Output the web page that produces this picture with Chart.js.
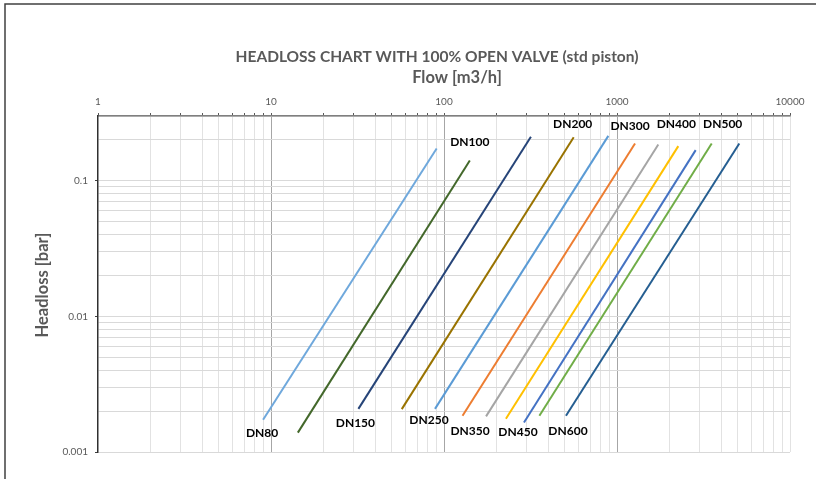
<!DOCTYPE html>
<html>
<head>
<meta charset="utf-8">
<script src="https://cdn.jsdelivr.net/npm/chart.js@4/dist/chart.umd.min.js"></script>
<style>
  html, body { margin: 0; padding: 0; background: #ffffff; }
  #wrap { width: 816px; height: 479px; position: relative; }
</style>
</head>
<body>
<div id="wrap"><canvas id="c" width="816" height="479"></canvas></div>
<script>
// ---- Data ----
const seriesNames = ['DN80', 'DN100', 'DN150', 'DN200', 'DN250', 'DN300', 'DN350', 'DN400', 'DN450', 'DN500', 'DN600'];
const flowStart = [9.0, 14.3, 32, 57, 88.7, 128, 175, 228, 290, 356, 507];          // m3/h
const flowEnd   = [90.7, 141, 318, 562, 891, 1271, 1733, 2261, 2850, 3527, 5093];    // m3/h
const headStart = [0.00173, 0.00139, 0.00208, 0.00207, 0.00208, 0.00185, 0.00183, 0.00176, 0.00165, 0.00185, 0.00185]; // bar
const headEnd   = [0.173, 0.141, 0.211, 0.209, 0.214, 0.188, 0.185, 0.180, 0.168, 0.188, 0.188];                       // bar
const xMajorTicks = [1, 10, 100, 1000, 10000];
const yMajorTicks = [0.001, 0.01, 0.1];
const yTickLabels = ['0.001', '0.01', '0.1'];
const chartTitle = 'HEADLOSS CHART WITH 100% OPEN VALVE (std piston)';
const xTitle = 'Flow [m3/h]';
const yTitle = 'Headloss [bar]';

// ---- Styles ----
const colors = ['#6FA8DC', '#43682B', '#264478', '#997300', '#5B9BD5', '#ED7D31', '#A5A5A5', '#FFC000', '#4472C4', '#70AD47', '#255E91'];
// label placement: which end of the line, and pixel offset of the label centre
const labelEnd = ['start', 'end', 'start', 'end', 'start', 'end', 'start', 'end', 'start', 'end', 'start'];
const labelDX = [-1, 0, -3, -1, -6, -5, -16, -2, -6, 11, 2];
const labelDY = [13, -18, 14, -13, 11, -17, 15, -22, 10, -19, 15];

const FONT = 'Lato, "Liberation Sans", Arial, sans-serif';
const GREY = '#595959';

function decadeTicks(majors, maxVal) {
  const out = [];
  majors.forEach(function (m) {
    for (let k = 1; k <= 9; k++) {
      const v = Number((m * k).toPrecision(6));
      if (v <= maxVal + 1e-12) out.push(v);
    }
  });
  return out;
}
function isMajor(v, majors) {
  return majors.some(function (m) { return Math.abs(v - m) / m < 1e-9; });
}

const datasets = seriesNames.map(function (name, i) {
  return {
    label: name,
    data: [{ x: flowStart[i], y: headStart[i] }, { x: flowEnd[i], y: headEnd[i] }],
    borderColor: colors[i],
    backgroundColor: colors[i],
    borderWidth: 2,
    pointRadius: 0,
    showLine: true,
    fill: false
  };
});

const textPlugin = {
  id: 'texts',
  afterDatasetsDraw: function (chart) {
    const ctx = chart.ctx;
    const xs = chart.scales.x, ys = chart.scales.y;
    ctx.save();
    // series labels
    ctx.font = 'bold 12px ' + FONT;
    ctx.fillStyle = '#000000';
    ctx.textAlign = 'center';
    ctx.textBaseline = 'middle';
    seriesNames.forEach(function (name, i) {
      const q = labelEnd[i] === 'start' ? flowStart[i] : flowEnd[i];
      const h = labelEnd[i] === 'start' ? headStart[i] : headEnd[i];
      const px = xs.getPixelForValue(q) + labelDX[i];
      const py = ys.getPixelForValue(h) + labelDY[i];
      ctx.fillText(name, px, py);
    });
    // titles
    ctx.fillStyle = GREY;
    ctx.font = 'bold 15.5px ' + FONT;
    ctx.fillText(chartTitle, 437, 57);
    ctx.font = 'bold 16.5px ' + FONT;
    ctx.fillText(xTitle, 457, 78);
    ctx.translate(43, 285);
    ctx.rotate(-Math.PI / 2);
    ctx.fillText(yTitle, 0, 0);
    ctx.restore();
    // outer frame
    ctx.save();
    ctx.strokeStyle = '#404040';
    ctx.lineWidth = 1.5;
    ctx.beginPath();
    ctx.moveTo(5, 490);
    ctx.lineTo(5, 4);
    ctx.lineTo(830, 4);
    ctx.stroke();
    ctx.restore();
  }
};

new Chart(document.getElementById('c'), {
  type: 'scatter',
  data: { datasets: datasets },
  plugins: [textPlugin],
  options: {
    responsive: false,
    animation: false,
    devicePixelRatio: 1,
    layout: { padding: { left: 0, top: 0, right: 26, bottom: 27 } },
    plugins: { legend: { display: false }, tooltip: { enabled: false }, title: { display: false } },
    scales: {
      x: {
        type: 'logarithmic',
        position: 'top',
        min: 1,
        max: 10000,
        afterFit: function (s) { s.height = 116; },
        afterBuildTicks: function (s) {
          s.ticks = decadeTicks(xMajorTicks.slice(0, 4), 10000).concat([10000]).map(function (v) { return { value: v }; });
        },
        ticks: {
          autoSkip: false,
          maxRotation: 0,
          padding: 5,
          color: GREY,
          font: { family: FONT, size: 10 },
          callback: function (v) { return isMajor(v, xMajorTicks) ? String(v) : ''; }
        },
        grid: {
          drawTicks: true,
          tickLength: 3,
          lineWidth: 1,
          color: function (c) {
            const v = c.tick ? c.tick.value : null;
            if (v === null) return '#d9d9d9';
            if (Math.abs(v - 1) < 1e-9) return 'rgba(0,0,0,0)';
            if (isMajor(v, [10, 100, 1000])) return '#a6a6a6';
            return '#e2e2e2';
          },
          tickColor: '#595959'
        },
        border: { display: true, color: '#7f7f7f', width: 1.5 }
      },
      y: {
        type: 'logarithmic',
        position: 'left',
        min: 0.001,
        max: 0.3,
        afterFit: function (s) { s.width = 98; },
        afterBuildTicks: function (s) {
          s.ticks = decadeTicks(yMajorTicks, 0.3).map(function (v) { return { value: v }; });
        },
        ticks: {
          autoSkip: false,
          padding: 7,
          color: GREY,
          font: { family: FONT, size: 10 },
          callback: function (v) {
            const idx = yMajorTicks.findIndex(function (m) { return Math.abs(v - m) / m < 1e-9; });
            return idx >= 0 ? yTickLabels[idx] : '';
          }
        },
        grid: {
          drawTicks: true,
          tickLength: 3,
          lineWidth: 1,
          color: '#d9d9d9',
          tickColor: function (c) {
            const v = c.tick ? c.tick.value : null;
            return (v !== null && isMajor(v, yMajorTicks)) ? '#404040' : 'rgba(0,0,0,0)';
          }
        },
        border: { display: true, color: '#303030', width: 1.5 }
      }
    }
  }
});
</script>
</body>
</html>
